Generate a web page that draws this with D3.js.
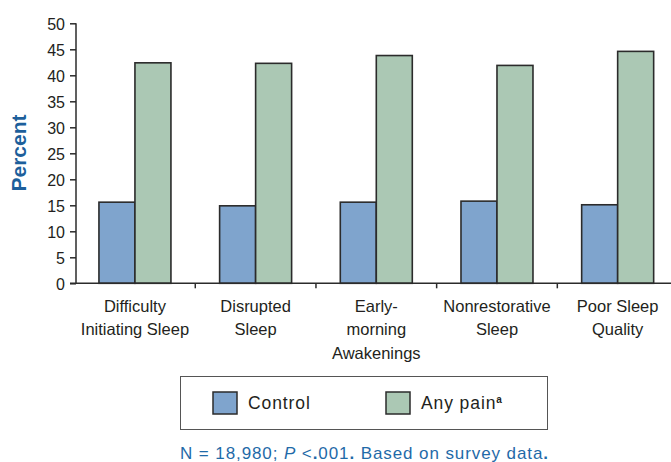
<!DOCTYPE html>
<html>
<head>
<meta charset="utf-8">
<script src="https://cdn.jsdelivr.net/npm/d3@7"></script>
<style>
  body { margin: 0; background: #fff; }
  text { font-family: "Liberation Sans", Arial, sans-serif; }
</style>
</head>
<body>
<svg id="chart" width="671" height="462"></svg>
<script>
const categories = [
  ["Difficulty", "Initiating Sleep"],
  ["Disrupted", "Sleep"],
  ["Early-", "morning", "Awakenings"],
  ["Nonrestorative", "Sleep"],
  ["Poor Sleep", "Quality"]
];
const seriesNames = ["Control", "Any pain"];
const control = [15.6, 14.9, 15.6, 15.8, 15.1];
const anyPain = [42.4, 42.3, 43.8, 41.9, 44.6];
const yTicks = [0, 5, 10, 15, 20, 25, 30, 35, 40, 45, 50];

const colors = ["#7fa4cd", "#abc8b4"];
const svg = d3.select("#chart");

const keys = categories.map((c, i) => i);
const x = d3.scaleBand().domain(keys).range([74.6, 678]);
const xs = d3.scaleBand().domain([0, 1]).range([0, 72]);
const y = d3.scaleLinear().domain([0, 50]).range([283.3, 23.3]);

// bars
const groups = svg.append("g").selectAll("g")
  .data(keys)
  .join("g")
  .attr("transform", i => `translate(${x(i) + x.bandwidth() / 2 - 36},0)`);

groups.selectAll("rect")
  .data(i => [control[i], anyPain[i]].map((v, s) => ({ v, s })))
  .join("rect")
  .attr("x", d => xs(d.s))
  .attr("width", xs.bandwidth())
  .attr("y", d => y(d.v))
  .attr("height", d => y(0) - y(d.v))
  .attr("fill", d => colors[d.s])
  .attr("stroke", "#2b2b2b")
  .attr("stroke-width", 1.6);

// y axis
const yAxis = svg.append("g")
  .attr("transform", "translate(76,0)")
  .call(d3.axisLeft(y).tickValues(yTicks).tickSize(6).tickPadding(5));
yAxis.select(".domain").attr("stroke", "#2b2b2b").attr("stroke-width", 1.5)
  .attr("d", `M0,${y(50)}V${y(0)}`);
yAxis.selectAll(".tick line").attr("stroke", "#2b2b2b").attr("stroke-width", 1.5);
yAxis.selectAll(".tick text")
  .attr("fill", "#231f20")
  .attr("dy", "0.36em")
  .style("font-size", "16px")
  .style("font-family", "'Liberation Sans', Arial, sans-serif");

// x axis
const xAxis = svg.append("g").attr("transform", `translate(0,${y(0)})`);
xAxis.append("line")
  .attr("x1", 70).attr("x2", 671)
  .attr("stroke", "#2b2b2b").attr("stroke-width", 1.5);
xAxis.selectAll(".sep")
  .data(keys.slice(1))
  .join("line")
  .attr("class", "sep")
  .attr("x1", i => x(i)).attr("x2", i => x(i))
  .attr("y1", 0).attr("y2", 5)
  .attr("stroke", "#2b2b2b").attr("stroke-width", 1.5);

xAxis.selectAll(".cat")
  .data(keys)
  .join("text")
  .attr("class", "cat")
  .attr("text-anchor", "middle")
  .attr("fill", "#231f20")
  .style("font-size", "16.5px")
  .each(function (i) {
    const t = d3.select(this);
    categories[i].forEach((line, k) => {
      t.append("tspan")
        .attr("x", x(i) + x.bandwidth() / 2)
        .attr("y", 28.5 + k * 23.5)
        .text(line);
    });
  });

// y title
svg.append("text")
  .attr("transform", "translate(26,153) rotate(-90)")
  .attr("text-anchor", "middle")
  .attr("fill", "#1d5f9b")
  .style("font-size", "21px")
  .style("font-weight", "bold")
  .text("Percent");

// legend
const legend = svg.append("g");
legend.append("rect")
  .attr("x", 180.5).attr("y", 376.5)
  .attr("width", 367).attr("height", 53)
  .attr("fill", "none").attr("stroke", "#555").attr("stroke-width", 1);

const legendX = [213, 386];
const items = legend.selectAll(".item")
  .data(seriesNames)
  .join("g")
  .attr("class", "item")
  .attr("transform", (d, i) => `translate(${legendX[i]},392)`);
items.append("rect")
  .attr("width", 24).attr("height", 22)
  .attr("fill", (d, i) => colors[i])
  .attr("stroke", "#2b2b2b").attr("stroke-width", 1.5);
const lt = items.append("text")
  .attr("x", 35).attr("y", 17)
  .attr("fill", "#231f20")
  .style("font-size", "17.5px")
  .style("letter-spacing", "0.9px")
  .text(d => d);
lt.filter((d, i) => i === 1).append("tspan")
  .attr("dy", -6)
  .style("font-size", "10px")
  .style("font-weight", "bold")
  .text("a");

// footnote
const note = svg.append("text")
  .attr("x", 180).attr("y", 459)
  .attr("fill", "#1f6aa8")
  .attr("textLength", 368)
  .attr("lengthAdjust", "spacing")
  .style("font-size", "17px");
note.append("tspan").text("N = 18,980; ");
note.append("tspan").style("font-style", "italic").text("P");
note.append("tspan").text(" <");
note.append("tspan").style("font-weight", "bold").text(".");
note.append("tspan").text("001");
note.append("tspan").style("font-weight", "bold").text(".");
note.append("tspan").text(" Based on survey data");
note.append("tspan").style("font-weight", "bold").text(".");
</script>
</body>
</html>
